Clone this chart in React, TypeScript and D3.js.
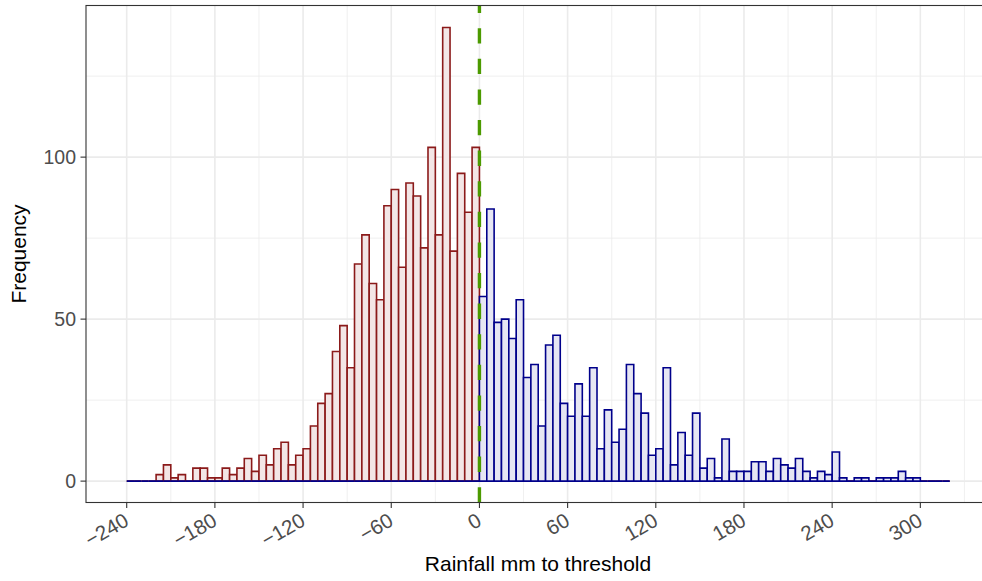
import React from "react";
import * as d3 from "d3";

// Bin left edges (width 5) from -240 to 315
const binWidth = 5;
const binStarts: number[] = d3.range(-240, 320, 5);

// Counts for rainfall below threshold (bins -240 .. -5)
const belowCounts: number[] = [
  0, 0, 0, 0, 2, 5, 1, 2, 0, 4, 4, 1, 1, 4, 2, 4, 7, 3, 8, 5, 10, 12, 5, 8,
  10, 17, 24, 27, 40, 48, 35, 67, 76, 61, 56, 85, 90, 66, 92, 88, 72, 103, 76,
  140, 71, 95, 83, 103,
];

// Counts for rainfall above threshold (bins 0 .. 315)
const aboveCounts: number[] = [
  57, 84, 49, 50, 44, 56, 32, 36, 17, 42, 45, 24, 20, 30, 20, 35, 10, 22, 12,
  16, 36, 27, 21, 8, 10, 35, 5, 15, 8, 21, 4, 7, 1, 13, 3, 3, 3, 6, 6, 3, 7, 5,
  4, 7, 3, 1, 3, 2, 9, 1, 0, 1, 1, 0, 1, 1, 1, 3, 1, 1, 0, 0, 0, 0,
];

const xTicks: number[] = [-240, -180, -120, -60, 0, 60, 120, 180, 240, 300];
const xMinor: number[] = [-210, -150, -90, -30, 30, 90, 150, 210, 270, 330];
const yTicks: number[] = [0, 50, 100];
const yMinor: number[] = [25, 75, 125];
const thresholdValue = 0;

const W = 982;
const H = 581;
const panel = { left: 86, top: 5.5, right: 990, bottom: 502.5 };

export default function App() {
  const x = d3.scaleLinear().domain([-267.7, 347.4]).range([panel.left, panel.right]);
  const y = d3.scaleLinear().domain([-6.6, 146.8]).range([panel.bottom, panel.top]);

  const redSeries = binStarts.map((b, i) => ({ x0: b, x1: b + binWidth, n: i < belowCounts.length ? belowCounts[i] : 0 }));
  const blueSeries = binStarts.map((b, i) => {
    const j = i - belowCounts.length;
    return { x0: b, x1: b + binWidth, n: j >= 0 && j < aboveCounts.length ? aboveCounts[j] : 0 };
  });

  const barPath = (d: { x0: number; x1: number; n: number }) => {
    const p = d3.path();
    p.moveTo(x(d.x0), y(0));
    p.lineTo(x(d.x0), y(d.n));
    p.lineTo(x(d.x1), y(d.n));
    p.lineTo(x(d.x1), y(0));
    p.closePath();
    return p.toString();
  };

  const font = "'Liberation Sans', Arial, Helvetica, sans-serif";
  const grid = "#EBEBEB";

  return (
    <svg width={W} height={H} style={{ position: "absolute", left: 0, top: 0, background: "#fff" }} fontFamily={font}>
      <defs>
        <clipPath id="panelClip">
          <rect x={panel.left} y={panel.top} width={panel.right - panel.left} height={panel.bottom - panel.top} />
        </clipPath>
      </defs>
      <g clipPath="url(#panelClip)">
        {yMinor.map((v) => (
          <line key={"ym" + v} x1={panel.left} x2={panel.right} y1={y(v)} y2={y(v)} stroke={grid} strokeWidth={0.8} />
        ))}
        {xMinor.map((v) => (
          <line key={"xm" + v} y1={panel.top} y2={panel.bottom} x1={x(v)} x2={x(v)} stroke={grid} strokeWidth={0.8} />
        ))}
        {yTicks.map((v) => (
          <line key={"yg" + v} x1={panel.left} x2={panel.right} y1={y(v)} y2={y(v)} stroke={grid} strokeWidth={1.6} />
        ))}
        {xTicks.map((v) => (
          <line key={"xg" + v} y1={panel.top} y2={panel.bottom} x1={x(v)} x2={x(v)} stroke={grid} strokeWidth={1.6} />
        ))}
        {redSeries.map((d, i) => (
          <path key={"r" + i} d={barPath(d)} fill="#F3E6E6" stroke="#8B1A1A" strokeWidth={1.6} />
        ))}
        {blueSeries.map((d, i) => (
          <path key={"b" + i} d={barPath(d)} fill="#E6E6F3" stroke="#00008B" strokeWidth={1.6} />
        ))}
        <line
          x1={x(thresholdValue)}
          x2={x(thresholdValue)}
          y1={panel.bottom}
          y2={panel.top}
          stroke="#4C9A00"
          strokeWidth={3.4}
          strokeDasharray="15.3,15.3"
        />
      </g>
      <rect
        x={panel.left}
        y={panel.top}
        width={panel.right - panel.left}
        height={panel.bottom - panel.top}
        fill="none"
        stroke="#333333"
        strokeWidth={1.1}
      />
      {yTicks.map((v) => (
        <g key={"yt" + v}>
          <line x1={panel.left - 5.5} x2={panel.left} y1={y(v)} y2={y(v)} stroke="#333333" strokeWidth={1.1} />
          <text x={panel.left - 10} y={y(v)} dy="0.36em" textAnchor="end" fontSize={19.5} fill="#4D4D4D">
            {v}
          </text>
        </g>
      ))}
      {xTicks.map((v) => (
        <g key={"xt" + v}>
          <line y1={panel.bottom} y2={panel.bottom + 5.5} x1={x(v)} x2={x(v)} stroke="#333333" strokeWidth={1.1} />
          <text
            transform={`translate(${x(v) + 3.5},${panel.bottom + 22}) rotate(-30)`}
            textAnchor="end"
            fontSize={20.5}
            fill="#4D4D4D"
          >
            {v < 0 ? "\u2212" + Math.abs(v) : String(v)}
          </text>
        </g>
      ))}
      <text x={538} y={571} textAnchor="middle" fontSize={21} fill="#000">
        Rainfall mm to threshold
      </text>
      <text transform={`translate(26,${(panel.top + panel.bottom) / 2}) rotate(-90)`} textAnchor="middle" fontSize={21} fill="#000">
        Frequency
      </text>
    </svg>
  );
}
